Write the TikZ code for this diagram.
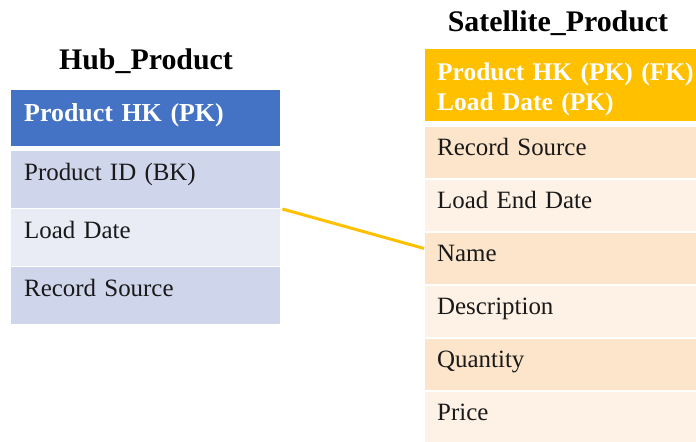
\documentclass[tikz,border=0pt]{standalone}
\usepackage{fontspec}
\setmainfont{Liberation Serif}
\usetikzlibrary{positioning}

\definecolor{hubblue}{RGB}{68,114,196}
\definecolor{hubdark}{RGB}{207,213,234}
\definecolor{hublight}{RGB}{233,235,245}
\definecolor{satgold}{RGB}{255,192,0}
\definecolor{satdark}{RGB}{253,229,203}
\definecolor{satlight}{RGB}{254,242,230}

\begin{document}
\begin{tikzpicture}[x=1bp,y=-1bp,
    tabtitle/.style={anchor=base,inner sep=0pt,font=\fontsize{30}{34}\selectfont\bfseries},
    hubcell/.style={anchor=north west,inner xsep=13bp,inner ysep=0pt,text width=243bp,align=left,
      text height=29bp,text depth=28bp,font=\fontsize{25}{30}\selectfont,text=black!90},
    hubhead/.style={hubcell,fill=hubblue,text=white,text height=31bp,text depth=25bp,font=\fontsize{26}{30}\selectfont\bfseries},
    satcell/.style={anchor=north west,inner xsep=12bp,inner ysep=0pt,text width=247bp,align=left,
      text height=29bp,text depth=22.5bp,font=\fontsize{25}{30}\selectfont,text=black!90},
    sathead/.style={satcell,fill=satgold,text=white,text height=31bp,text depth=41bp,font=\fontsize{25.5}{30}\selectfont\bfseries},
    link/.style={color=satgold,line width=3bp}]
    \useasboundingbox (0,0) rectangle (696,442);
    % Hub table
    \node [tabtitle] (hubtitle) at (146,70) {Hub\_Product};
    \node [hubhead] (hubkey) at (11,90) {Product HK (PK)};
    \node [hubcell,fill=hubdark] (pid) at (11,151) {Product ID (BK)};
    \node [hubcell,fill=hublight] (loaddate) at (11,209) {Load Date};
    \node [hubcell,fill=hubdark] (hubsrc) at (11,267) {Record Source};
    % Satellite table
    \node [tabtitle] (sattitle) at (558,32) {Satellite\_Product};
    \node [sathead] (satkey) at (425,49) {Product~HK~(PK)~(FK)\\Load Date (PK)};
    \node [satcell,fill=satdark] (satsrc) at (425,126.5) {Record Source};
    \node [satcell,fill=satlight] (enddate) at (425,179.5) {Load End Date};
    \node [satcell,fill=satdark] (name) at (425,232.5) {Name};
    \node [satcell,fill=satlight] (descr) at (425,285.5) {Description};
    \node [satcell,fill=satdark] (qty) at (425,338.5) {Quantity};
    \node [satcell,fill=satlight] (price) at (425,391.5) {Price};
    % Link
    \draw [link] ([xshift=2bp]loaddate.north east) -- ([yshift=10bp,xshift=-1bp]name.west);
\end{tikzpicture}
\end{document}
